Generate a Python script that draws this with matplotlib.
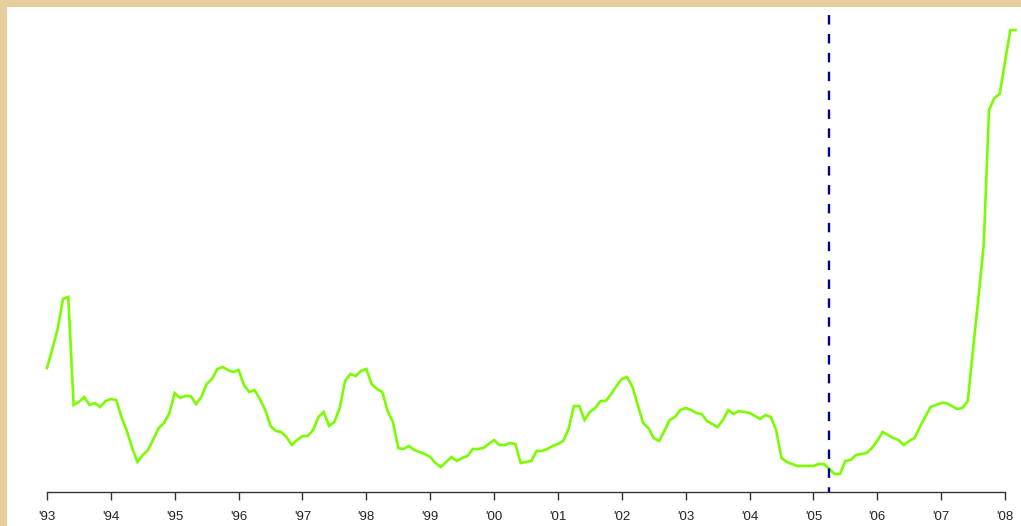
import numpy as np
import matplotlib
matplotlib.use('Agg')
from matplotlib import pyplot as plt

# monthly series, Jan 1993 .. Mar 2008 (arbitrary index units)
start_year = 1993
values = [
    132, 151, 171, 201, 203, 95, 98, 103, 95, 97, 93, 99,
    101, 100, 83, 69, 52, 38, 45, 50, 61, 72, 77, 87,
    107, 102, 104, 104, 96, 103, 116, 121, 131, 133, 130, 128,
    130, 115, 108, 110, 101, 90, 74, 69, 68, 63, 55, 60,
    64, 64, 70, 83, 88, 74, 78, 92, 119, 126, 124, 129,
    131, 116, 111, 108, 89, 78, 52, 51, 54, 50, 48, 46,
    43, 37, 33, 38, 43, 39, 42, 44, 51, 51, 52, 56,
    60, 55, 55, 57, 56, 37, 38, 39, 49, 49, 51, 54,
    56, 59, 71, 94, 94, 80, 88, 92, 99, 99, 106, 114,
    121, 123, 113, 95, 77, 72, 62, 59, 69, 80, 83, 90,
    92, 90, 87, 86, 79, 76, 73, 80, 90, 86, 89, 88,
    87, 84, 81, 85, 83, 70, 42, 38, 36, 34, 34, 34,
    34, 36, 36, 31, 26, 26, 39, 40, 45, 46, 47, 52,
    59, 68, 65, 62, 60, 55, 59, 62, 73, 83, 93, 95,
    97, 97, 94, 91, 92, 99, 150, 202, 255, 390, 402, 406,
    438, 470, 470,
]
tick_years = list(range(1993, 2009))
tick_labels = ["'" + str(y)[2:] for y in tick_years]
marker_date = 2005.25

W, H = 1021, 526
fig = plt.figure(figsize=(W / 100, H / 100), dpi=100, facecolor='#E6CF9C')

# white panel inside the parchment border
bg = fig.add_axes([7 / W, 0, 1 - 7 / W, 1 - 7 / H])
bg.set_facecolor('white')
bg.set_xticks([])
bg.set_yticks([])
for s in bg.spines.values():
    s.set_visible(False)

# plot region: x pixels 7..1021, y pixels 11..492
ax = fig.add_axes([7 / W, (H - 492) / H, 1 - 7 / W, (492 - 11) / H])
ax.patch.set_alpha(0)

x = start_year + np.arange(len(values)) / 12.0
ax.plot(x, values, color='#7CFC00', lw=1.9, solid_joinstyle='miter')
ax.axvline(marker_date, ymax=0.992, color='#00008B', lw=1.7, linestyle=(2, (4, 4)))

px_per_year = (1005 - 47) / 15
ax.set_xlim(1993 - 40 / px_per_year, 1993 + 974 / px_per_year)
ax.set_ylim(8, 489)

for side in ['top', 'right', 'left']:
    ax.spines[side].set_visible(False)
ax.spines['bottom'].set_bounds(1993, 2008)
ax.spines['bottom'].set_color('#333333')
ax.spines['bottom'].set_linewidth(1.0)
ax.set_yticks([])
ax.set_xticks(tick_years)
ax.set_xticklabels(tick_labels, fontsize=9.5, family='Liberation Sans', color='#222222')
ax.tick_params(axis='x', length=6, width=1.0, color='#333333', pad=8)

fig.savefig('out.png', dpi=100, facecolor=fig.get_facecolor())
